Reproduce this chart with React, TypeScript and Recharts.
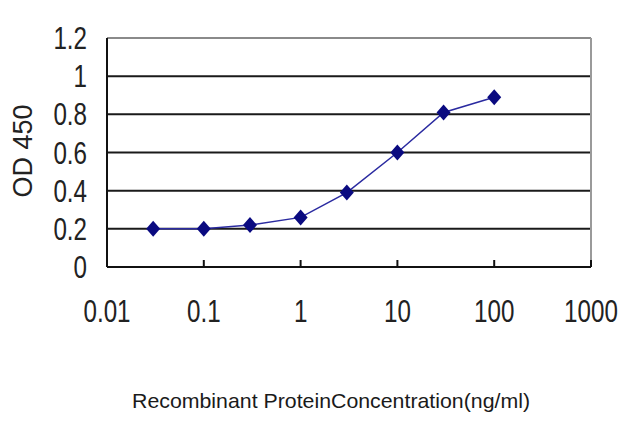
import React from "react";
import { LineChart, Line, XAxis, YAxis, CartesianGrid, ReferenceLine, Label } from "recharts";

const concentrations = [0.03, 0.1, 0.3, 1, 3, 10, 30, 100];
const odValues = [0.2, 0.2, 0.22, 0.26, 0.39, 0.6, 0.81, 0.89];
const xTicks = [0.01, 0.1, 1, 10, 100, 1000];
const xTickLabels = ["0.01", "0.1", "1", "10", "100", "1000"];
const yTicks = [0, 0.2, 0.4, 0.6, 0.8, 1, 1.2];
const yTickLabels = ["0", "0.2", "0.4", "0.6", "0.8", "1", "1.2"];
const gridValues = [0.2, 0.4, 0.6, 0.8, 1];

const data = concentrations.map((c, i) => ({ x: c, y: odValues[i] }));

const tickFont = "'Liberation Sans', Arial, sans-serif";
const textColor = "#222";
const squeeze = 0.78;

const XTick = (props: any) => {
  const { x, y, payload } = props;
  const idx = xTicks.indexOf(payload.value);
  const label = idx >= 0 ? xTickLabels[idx] : String(payload.value);
  const showMark = payload.value !== 0.01;
  return (
    <g>
      {showMark && <line x1={x} x2={x} y1={y - 7} y2={y} stroke="#111" strokeWidth={2} />}
      <g transform={`translate(${x},${y + 55}) scale(${squeeze},1)`}>
        <text x={0} y={0} textAnchor="middle" fontFamily={tickFont} fontSize={31} fill={textColor}>
          {label}
        </text>
      </g>
    </g>
  );
};

const YTick = (props: any) => {
  const { x, y, payload } = props;
  const idx = yTicks.findIndex((v) => Math.abs(v - payload.value) < 1e-9);
  const label = idx >= 0 ? yTickLabels[idx] : String(payload.value);
  return (
    <g transform={`translate(${x},${y + 11}) scale(${squeeze},1)`}>
      <text x={0} y={0} textAnchor="end" fontFamily={tickFont} fontSize={31} fill={textColor}>
        {label}
      </text>
    </g>
  );
};

const Diamond = (props: any) => {
  const { cx, cy } = props;
  if (cx == null || cy == null) return null;
  const w = 7;
  const h = 8;
  return (
    <polygon
      points={`${cx},${cy - h} ${cx + w},${cy} ${cx},${cy + h} ${cx - w},${cy}`}
      fill="#0a0a80"
      stroke="none"
    />
  );
};

const XTitle = (props: any) => {
  const { viewBox } = props;
  const cx = viewBox.x + viewBox.width / 2 - 18;
  return (
    <text
      x={cx}
      y={408}
      textAnchor="middle"
      fontFamily="'Liberation Sans', Arial, sans-serif"
      fontSize={21}
      fill="#1a1a1a"
      textLength={398}
      lengthAdjust="spacingAndGlyphs"
    >
      Recombinant ProteinConcentration(ng/ml)
    </text>
  );
};

const YTitle = () => {
  return (
    <text
      x={0}
      y={0}
      transform="translate(32,151) rotate(-90)"
      textAnchor="middle"
      fontFamily="'Liberation Sans', Arial, sans-serif"
      fontSize={27}
      fill={textColor}
    >
      OD 450
    </text>
  );
};

export default function App() {
  return (
    <div style={{ position: "absolute", left: 0, top: 0, width: 640, height: 427, background: "#fff" }}>
      <LineChart width={640} height={427} data={data} margin={{ top: 38, right: 49, bottom: 110, left: 47 }}>
        <CartesianGrid horizontal={true} vertical={false} horizontalValues={gridValues} stroke="#1a1a1a" strokeWidth={2} />
        <ReferenceLine y={1.2} stroke="#8a8a8a" strokeWidth={2} />
        <ReferenceLine x={1000} stroke="#9a9a9a" strokeWidth={2} />
        <XAxis
          dataKey="x"
          type="number"
          scale="log"
          domain={[0.01, 1000]}
          ticks={xTicks}
          allowDataOverflow
          height={50}
          tickSize={0}
          tickMargin={0}
          tick={<XTick />}
          axisLine={{ stroke: "#111", strokeWidth: 2 }}
          tickLine={false}
          interval={0}
        >
          <Label content={<XTitle />} />
        </XAxis>
        <YAxis
          type="number"
          domain={[0, 1.2]}
          ticks={yTicks}
          width={60}
          tickSize={0}
          tickMargin={20}
          tick={<YTick />}
          axisLine={{ stroke: "#111", strokeWidth: 2 }}
          tickLine={false}
          interval={0}
        >
          <Label content={<YTitle />} />
        </YAxis>
        <Line
          type="linear"
          dataKey="y"
          stroke="#2a2aa0"
          strokeWidth={1.5}
          dot={<Diamond />}
          activeDot={false}
          isAnimationActive={false}
        />
      </LineChart>
    </div>
  );
}
